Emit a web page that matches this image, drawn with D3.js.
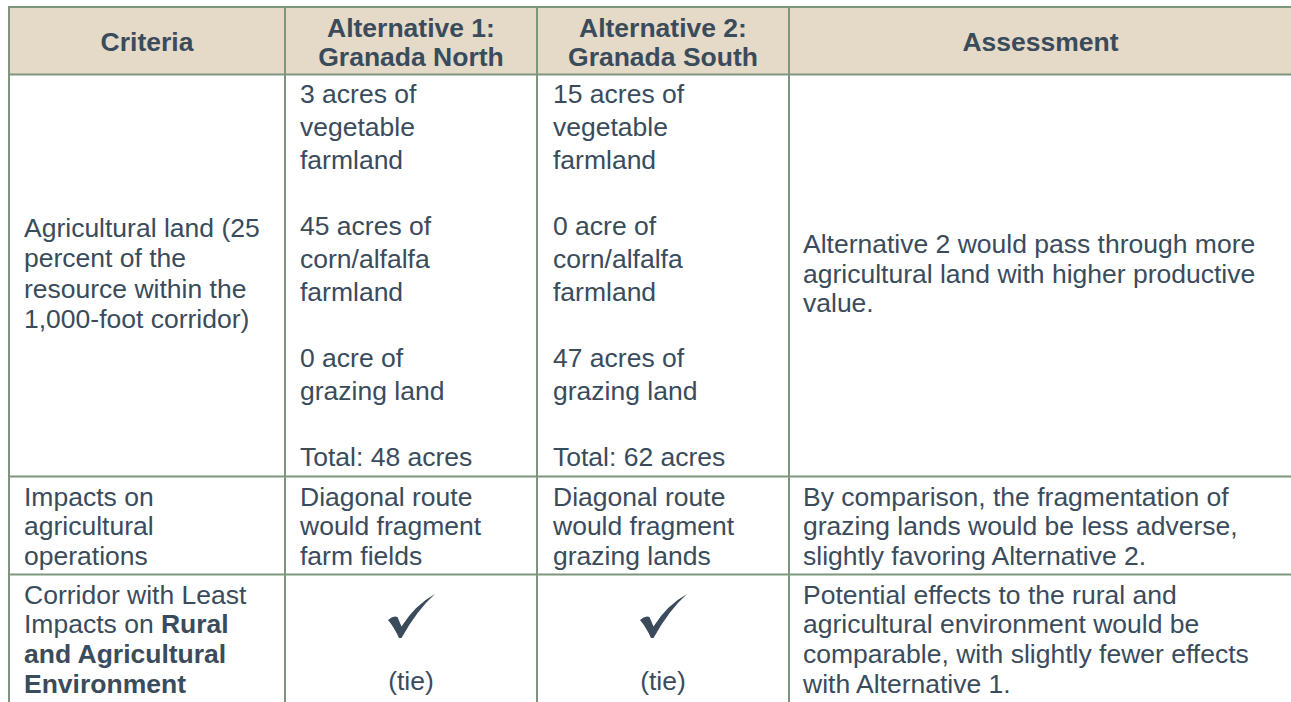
<!DOCTYPE html>
<html>
<head>
<meta charset="utf-8">
<script src="https://cdn.jsdelivr.net/npm/d3@7"></script>
<style>
  html, body { margin: 0; padding: 0; background: #fff; overflow: hidden; }
  svg { display: block; font-family: "Liberation Sans", Arial, sans-serif; }
</style>
</head>
<body>
<svg id="chart" width="1291" height="702"></svg>
<script>
//================= table content ==================
var headers = [["Criteria"], ["Alternative 1:", "Granada North"], ["Alternative 2:", "Granada South"], ["Assessment"]];

var criteria = [
  ["Agricultural land (25", "percent of the", "resource within the", "1,000-foot corridor)"],
  ["Impacts on", "agricultural", "operations"],
  ["Corridor with Least", "Impacts on **Rural**", "**and Agricultural**", "**Environment**"]
];

var alt1 = [
  ["3 acres of", "vegetable", "farmland", "", "45 acres of", "corn/alfalfa", "farmland", "", "0 acre of", "grazing land", "", "Total: 48 acres"],
  ["Diagonal route", "would fragment", "farm fields"],
  ["(tie)"]
];

var alt2 = [
  ["15 acres of", "vegetable", "farmland", "", "0 acre of", "corn/alfalfa", "farmland", "", "47 acres of", "grazing land", "", "Total: 62 acres"],
  ["Diagonal route", "would fragment", "grazing lands"],
  ["(tie)"]
];

var assessment = [
  ["Alternative 2 would pass through more", "agricultural land with higher productive", "value."],
  ["By comparison, the fragmentation of", "grazing lands would be less adverse,", "slightly favoring Alternative 2."],
  ["Potential effects to the rural and", "agricultural environment would be", "comparable, with slightly fewer effects", "with Alternative 1."]
];

var checked = [false, false, true]; // row gets a check mark in both alternative columns
//==================================================

var textColor = "#3a4b5c";
var lineColor = "#7d967c";
var headFill = "#e5dac7";
var fontSize = 26.5;

var svg = d3.select("#chart");

// column / row layout
var colWidths = [276, 252, 252, 503];
var colEdges = [9].concat(Array.from(d3.cumsum(colWidths), function(d) { return 9 + d; }));
var rowHeights = [67.5, 402, 98, 160];
var rowEdges = [7].concat(Array.from(d3.cumsum(rowHeights), function(d) { return 7 + d; }));

var x = d3.scaleOrdinal().domain(d3.range(4)).range(colEdges.slice(0, 4));
var w = d3.scaleOrdinal().domain(d3.range(4)).range(colWidths);
var y = d3.scaleOrdinal().domain(d3.range(4)).range(rowEdges.slice(0, 4));
var h = d3.scaleOrdinal().domain(d3.range(4)).range(rowHeights);

// header background
svg.append("rect")
  .attr("x", colEdges[0])
  .attr("y", y(0))
  .attr("width", colEdges[4] - colEdges[0])
  .attr("height", h(0))
  .attr("fill", headFill);

// writes lines of text; "**word**" marks bold runs
var writeLines = function(lines, tx, firstBase, lh, anchor, bold) {
  var t = svg.append("text")
    .attr("font-size", fontSize)
    .attr("fill", textColor)
    .attr("text-anchor", anchor)
    .attr("font-weight", bold ? "bold" : "normal");
  lines.forEach(function(line, i) {
    if (line === "") return;
    var parts = line.split("**");
    var first = true;
    parts.forEach(function(p, j) {
      if (p === "") return;
      var ts = t.append("tspan").text(p);
      if (j % 2 == 1) ts.attr("font-weight", "bold");
      if (first) {
        ts.attr("x", tx).attr("y", firstBase + i * lh);
        first = false;
      }
    });
  });
  return t;
};

// header text
headers.forEach(function(lines, c) {
  var cx = x(c) + w(c) / 2;
  var mid = y(0) + h(0) / 2;
  var lh = 29.3;
  var base = mid + 10.5 - (lines.length - 1) * lh / 2;
  writeLines(lines, cx, base, lh, "middle", true);
});

// body rows
var padLeft = 15;
for (var r = 0; r < 3; r++) {
  var rowTop = y(r + 1);
  var rowMid = rowTop + h(r + 1) / 2;
  if (r == 0) {
    // first row: criteria + assessment centered vertically, alternatives from the top
    var lhC = 30.5;
    writeLines(criteria[r], x(0) + padLeft, rowMid + 7 - (criteria[r].length - 1) * lhC / 2, lhC, "start", false);
    var lhA = 29.3;
    writeLines(assessment[r], x(3) + padLeft - 1, rowMid + 7 - (assessment[r].length - 1) * lhA / 2, lhA, "start", false);
    writeLines(alt1[r], x(1) + padLeft, rowTop + 28.8, 33, "start", false);
    writeLines(alt2[r], x(2) + padLeft + 1, rowTop + 28.8, 33, "start", false);
  } else {
    var lh = 29.8;
    writeLines(criteria[r], x(0) + padLeft, rowTop + 29, lh, "start", false);
    writeLines(assessment[r], x(3) + padLeft - 1, rowTop + 29, lh, "start", false);
    if (checked[r]) {
      [1, 2].forEach(function(c) {
        var cx = x(c) + w(c) / 2;
        svg.append("path")
          .attr("d", "M0,26 Q5,21 9.5,23 L13.5,32.5 Q27,11 47,0 Q29,16 13.5,44 L11,44 Q6,33 0,26 Z")
          .attr("transform", "translate(" + (cx - 23) + "," + (rowTop + 19.5) + ")")
          .attr("fill", textColor);
      });
      writeLines(alt1[r], x(1) + w(1) / 2, rowTop + 115.5, lh, "middle", false);
      writeLines(alt2[r], x(2) + w(2) / 2, rowTop + 115.5, lh, "middle", false);
    } else {
      writeLines(alt1[r], x(1) + padLeft, rowTop + 29, lh, "start", false);
      writeLines(alt2[r], x(2) + padLeft + 1, rowTop + 29, lh, "start", false);
    }
  }
}

// grid lines
var hLines = rowEdges.slice(0, 4);
svg.selectAll("line.h")
  .data(hLines)
  .enter().append("line")
  .attr("class", "h")
  .attr("x1", colEdges[0] - 1)
  .attr("x2", colEdges[4] + 1)
  .attr("y1", function(d) { return d; })
  .attr("y2", function(d) { return d; })
  .attr("stroke", lineColor)
  .attr("stroke-width", 2);

svg.selectAll("line.v")
  .data(colEdges)
  .enter().append("line")
  .attr("class", "v")
  .attr("x1", function(d) { return d; })
  .attr("x2", function(d) { return d; })
  .attr("y1", rowEdges[0] - 1)
  .attr("y2", rowEdges[4])
  .attr("stroke", lineColor)
  .attr("stroke-width", 2);
</script>
</body>
</html>
